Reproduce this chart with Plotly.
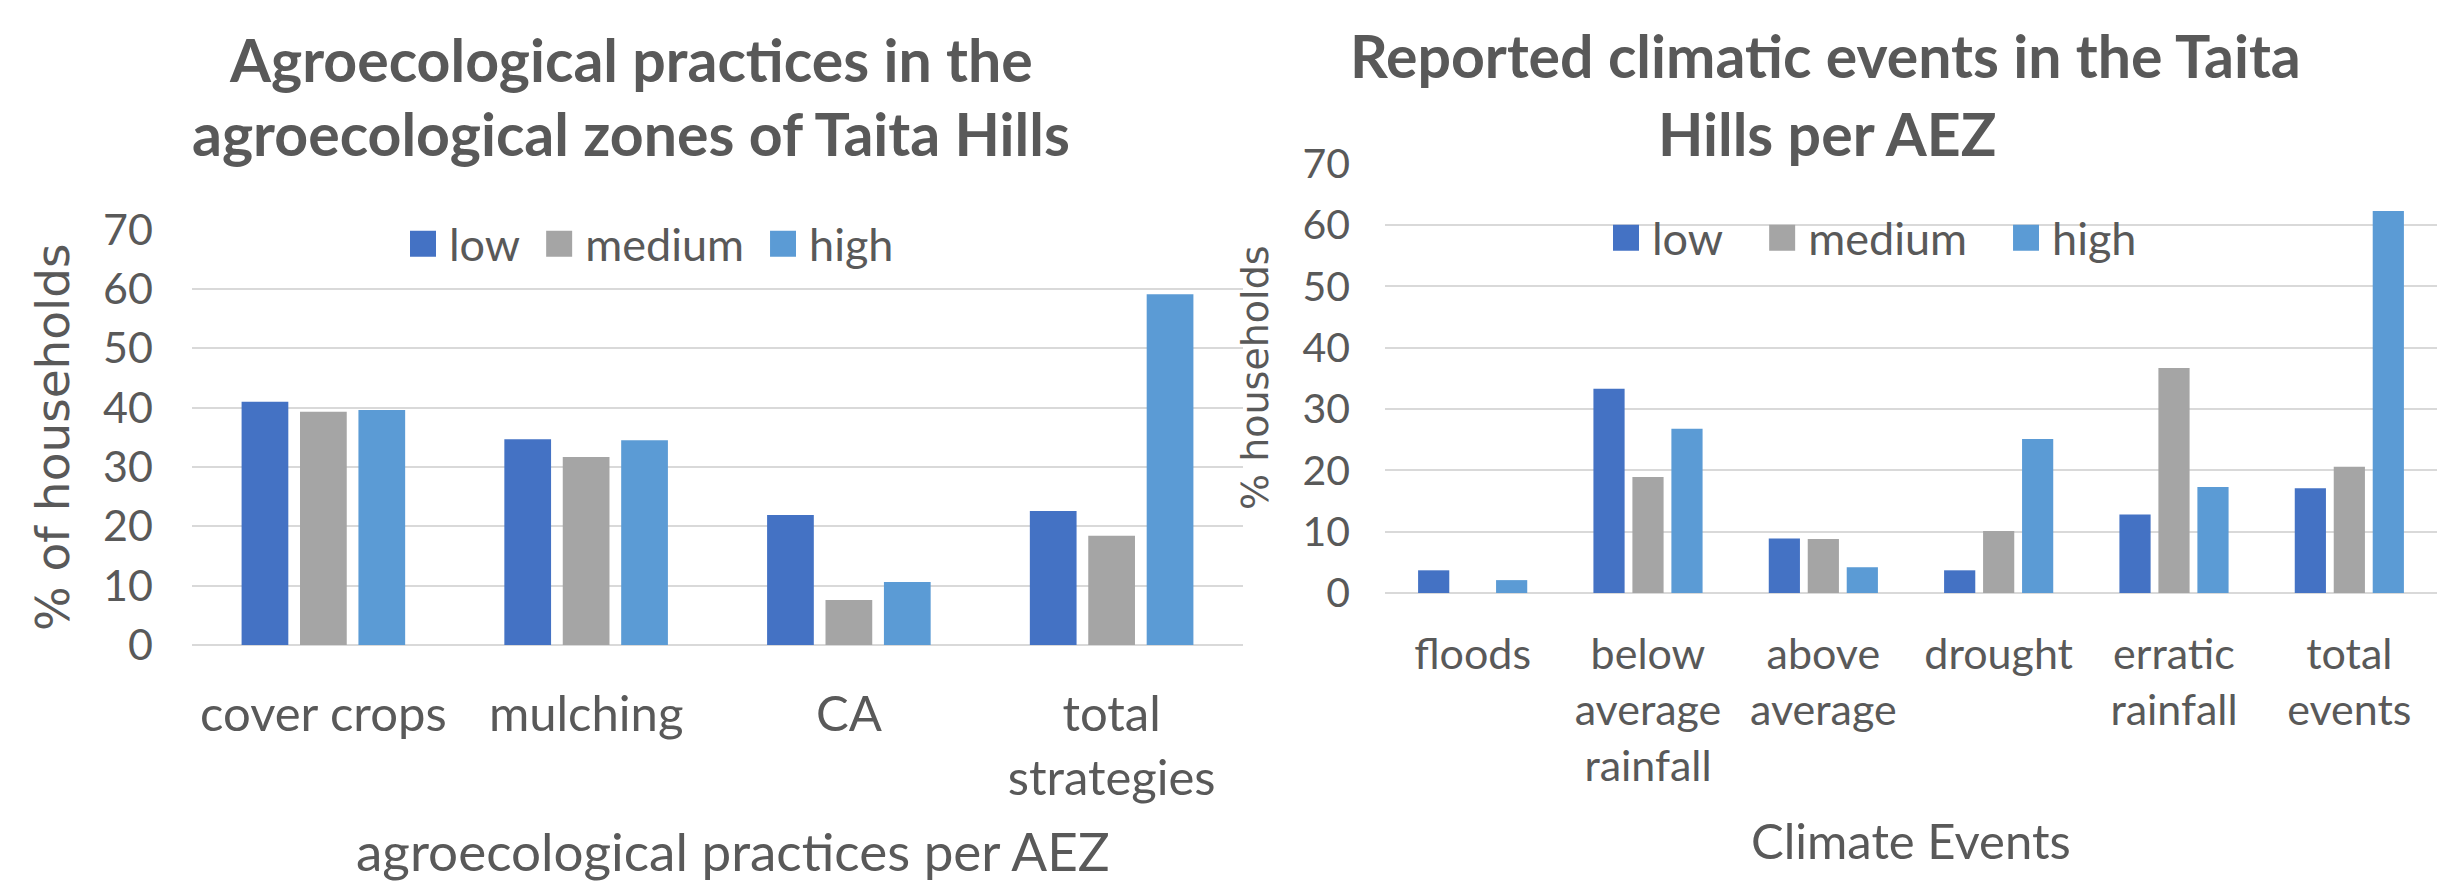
import plotly.graph_objects as go

W, H = 2457, 883

# ---------------- data ----------------
series_names = ["low", "medium", "high"]
series_colors = ["#4472C4", "#A5A5A5", "#5B9BD5"]

practice_categories = ["cover crops", "mulching", "CA", "total<br>strategies"]
practice_low = [41.0, 34.7, 21.9, 22.6]
practice_medium = [39.3, 31.7, 7.6, 18.4]
practice_high = [39.6, 34.5, 10.6, 59.1]

event_categories = ["floods", "below<br>average<br>rainfall", "above<br>average",
                    "drought", "erratic<br>rainfall", "total<br>events"]
event_low = [3.7, 33.3, 8.9, 3.7, 12.8, 17.1]
event_medium = [0.0, 18.9, 8.8, 10.1, 36.7, 20.6]
event_high = [2.1, 26.8, 4.2, 25.1, 17.3, 62.3]

y_ticks = [0, 10, 20, 30, 40, 50, 60, 70]

TEXT = "#595959"
GRID = "#D9D9D9"
FONT = "Lato"
YT_FONT = "DejaVu Sans"

fig = go.Figure()

for name, color, vals in zip(series_names, series_colors,
                             [practice_low, practice_medium, practice_high]):
    fig.add_trace(go.Bar(x=practice_categories, y=vals, name=name,
                         marker=dict(color=color, line=dict(width=0)),
                         xaxis="x", yaxis="y", legend="legend"))

for name, color, vals in zip(series_names, series_colors,
                             [event_low, event_medium, event_high]):
    fig.add_trace(go.Bar(x=event_categories, y=vals, name=name,
                         marker=dict(color=color, line=dict(width=0)),
                         xaxis="x2", yaxis="y2", legend="legend2"))


def px_x(p):
    return p / W


def px_y(p):
    return 1 - p / H


common_y = dict(range=[0, 70], tickvals=y_ticks, showgrid=True, gridcolor=GRID,
                gridwidth=1.5, zeroline=True, zerolinecolor=GRID, zerolinewidth=1.5,
                showline=False, ticks="", automargin=False, fixedrange=True)
common_x = dict(showgrid=False, showline=False, ticks="", automargin=False,
                fixedrange=True, tickangle=0)

legend_common = dict(orientation="h", xanchor="left", yanchor="middle",
                     bgcolor="rgba(0,0,0,0)",
                     font=dict(family=FONT, size=45, color=TEXT))

fig.update_layout(
    width=W, height=H, autosize=False,
    margin=dict(l=0, r=0, t=0, b=0),
    paper_bgcolor="white", plot_bgcolor="white",
    barmode="group", bargap=0.333, bargroupgap=0.2,
    font=dict(family=FONT, color=TEXT),
    xaxis=dict(domain=[px_x(192), px_x(1243)], anchor="y",
               tickfont=dict(family=FONT, size=49, color=TEXT),
               ticklabelstandoff=36, **common_x),
    yaxis=dict(domain=[px_y(645), px_y(229.7)], anchor="x",
               tickfont=dict(family=FONT, size=43, color=TEXT),
               ticklabelstandoff=38, **common_y),
    xaxis2=dict(domain=[px_x(1385), px_x(2437)], anchor="y2",
                tickfont=dict(family=FONT, size=43, color=TEXT),
                ticklabelstandoff=32, **common_x),
    yaxis2=dict(domain=[px_y(593), px_y(163.7)], anchor="x2",
                tickfont=dict(family=FONT, size=41, color=TEXT),
                ticklabelstandoff=34, **common_y),
    legend=dict(x=px_x(389), y=px_y(244), itemwidth=50, **legend_common),
    legend2=dict(x=px_x(1572), y=px_y(238), itemwidth=70, **legend_common),
)

ann = []


def add_text(text, x, y, size, family=FONT, angle=0, yanchor="middle"):
    ann.append(dict(text=text, x=px_x(x), y=px_y(y), xref="paper", yref="paper",
                    xanchor="center", yanchor=yanchor, showarrow=False, borderpad=0,
                    textangle=angle, font=dict(family=family, size=size, color=TEXT)))


add_text("<b>Agroecological practices in the</b>", 631, 60, 59)
add_text("<b>agroecological zones of Taita Hills</b>", 631, 133, 59)
add_text("<b>Reported climatic events in the Taita</b>", 1826, 55, 59)
add_text("<b>Hills per AEZ</b>", 1827, 133, 59)
add_text("% of households", 52, 437, 47, family=YT_FONT, angle=-90)
add_text("% households", 1255, 378, 38, family=YT_FONT, angle=-90)
add_text("agroecological practices per AEZ", 733, 883, 53, yanchor="bottom")
add_text("Climate Events", 1911, 840, 49)

fig.update_layout(annotations=ann)

post_js = """
document.body.style.margin = '0';
var gd = document.getElementById('{plot_id}');
gd.querySelectorAll('g.legend g.legendpoints path').forEach(function(p){
  p.setAttribute('d', 'M17,13H-9V-13H17Z');
});
gd.querySelectorAll('g.legend2 g.legendpoints path').forEach(function(p){
  p.setAttribute('d', 'M27,13H1V-13H27Z');
});
"""

fig.write_html("out.html", post_script=post_js,
               config={"displayModeBar": False, "staticPlot": False})
